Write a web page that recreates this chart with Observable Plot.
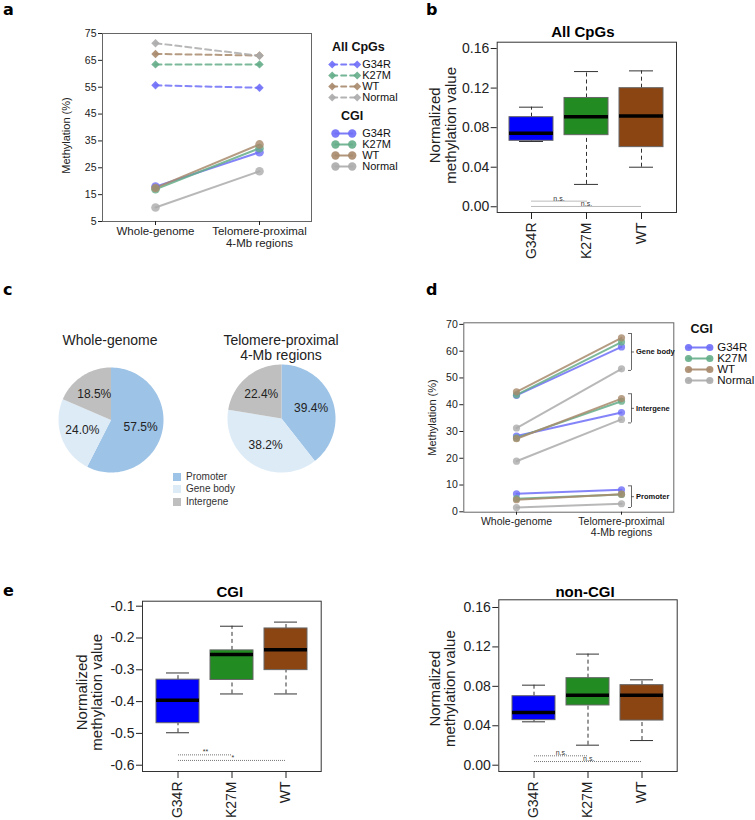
<!DOCTYPE html>
<html><head><meta charset="utf-8">
<script src="https://cdn.jsdelivr.net/npm/d3@7"></script>
<script src="https://cdn.jsdelivr.net/npm/@observablehq/plot@0.6"></script>
<style>
body{margin:0;background:#fff;}
#root{position:relative;width:755px;height:820px;overflow:hidden;font-family:"Liberation Sans",Arial,sans-serif;color:#222;background:#fff;}
.abs{position:absolute;}
.abs svg{display:block;}
.plab{position:absolute;font-weight:bold;font-size:16px;font-family:"DejaVu Sans",sans-serif;color:#000;}
.ctext{position:absolute;transform:translate(-50%,-50%);white-space:pre;text-align:center;line-height:1.05;}
</style></head><body><div id="root"></div>
<script>
// ---------- data ----------
const groups = ["G34R", "K27M", "WT"];
const boxColors = ["#0000ff", "#228b22", "#8b4513"];
const sites = ["Whole-genome", "Telomere-proximal\n4-Mb regions"];
const series = ["G34R", "K27M", "WT", "Normal"];
const seriesColors = ["#6e6ef8", "#64ad88", "#a8896c", "#ababab"];

// panel a (methylation %, All CpGs and CGI)
const aAllWG  = [55.7, 63.5, 67.4, 71.4];
const aAllTel = [54.8, 63.5, 66.8, 66.7];
const aCgiWG  = [18.0, 17.0, 17.5, 10.2];
const aCgiTel = [30.8, 32.3, 33.7, 23.7];

// panel b (All CpGs normalized methylation box stats)
const bLow  = [0.066, 0.0226, 0.040];
const bQ1   = [0.0667, 0.0724, 0.0603];
const bMed  = [0.0744, 0.0909, 0.0919];
const bQ3   = [0.0906, 0.110, 0.1199];
const bHigh = [0.1007, 0.1367, 0.1374];

// significance comparisons
const sigFrom = ["G34R", "G34R"];
const sigTo   = ["K27M", "WT"];
const bSigY = [0.0057, 0.0003];
const bSigLabel = ["n.s.", "n.s."];

// panel c (pie shares, %)
const pieRegions = ["Promoter", "Gene body", "Intergene"];
const pieColors = ["#9dc3e6", "#ddebf7", "#bfbfbf"];
const wgShares  = [57.5, 24.0, 18.5];
const telShares = [39.4, 38.2, 22.4];

// panel d (CGI methylation % by region)
const dRegions = ["Gene body", "Intergene", "Promoter"];
const dGeneBodyWG   = [43.5, 43.7, 44.8, 31.3];
const dGeneBodyTel  = [61.6, 63.4, 65.0, 53.4];
const dIntergeneWG  = [28.3, 27.6, 27.3, 18.9];
const dIntergeneTel = [37.1, 41.3, 42.3, 34.5];
const dPromoterWG   = [6.7, 4.9, 4.5, 1.6];
const dPromoterTel  = [8.2, 6.5, 6.6, 3.0];
const bracketLow  = [52.8, 33.2, 1.6];
const bracketHigh = [66.6, 44.1, 9.7];

// panel e (CGI / non-CGI box stats)
const eCgiLow  = [-0.498, -0.376, -0.376];
const eCgiQ1   = [-0.468, -0.332, -0.301];
const eCgiMed  = [-0.396, -0.252, -0.237];
const eCgiQ3   = [-0.331, -0.239, -0.170];
const eCgiHigh = [-0.310, -0.163, -0.150];
const eCgiSigY = [-0.5675, -0.585];
const eCgiSigLabel = ["**", "*"];

const eNonLow  = [0.044, 0.0203, 0.025];
const eNonQ1   = [0.0457, 0.0606, 0.0453];
const eNonMed  = [0.0534, 0.071, 0.071];
const eNonQ3   = [0.070, 0.0883, 0.0812];
const eNonHigh = [0.0812, 0.1127, 0.0866];
const eNonSigY = [0.0095, 0.0037];
const eNonSigLabel = ["n.s.", "n.s."];

// ---------- helpers ----------
const FONT = "'Liberation Sans', Arial, Helvetica, sans-serif";
const root = document.getElementById("root");
function place(el, left, top) {
  const d = document.createElement("div");
  d.className = "abs"; d.style.left = left + "px"; d.style.top = top + "px";
  d.appendChild(el); root.appendChild(d); return d;
}
function html(text, cls, left, top, css) {
  const d = document.createElement("div");
  d.className = cls; d.textContent = text;
  d.style.left = left + "px"; d.style.top = top + "px";
  if (css) d.style.cssText += css;
  root.appendChild(d); return d;
}
const baseStyle = (fs) => ({fontFamily: FONT, fontSize: fs + "px", color: "#222", background: "transparent", overflow: "visible"});

// ---------- panel letters ----------
html("a", "plab", 3, 0);
html("b", "plab", 426, 0);
html("c", "plab", 3, 280);
html("d", "plab", 426, 280);
html("e", "plab", 3, 581);

// ---------- panel a ----------
function rowsFor(wg, tel, extra) {
  const rows = [];
  series.forEach((s, i) => {
    rows.push({series: s, site: sites[0], value: wg[i], ...extra});
    rows.push({series: s, site: sites[1], value: tel[i], ...extra});
  });
  return rows;
}
const aAllRows = rowsFor(aAllWG, aAllTel, {set: "All CpGs"});
const aCgiRows = rowsFor(aCgiWG, aCgiTel, {set: "CGI"});

place(Plot.plot({
  width: 320, height: 250,
  marginLeft: 102, marginRight: 9, marginTop: 33, marginBottom: 29,
  style: baseStyle(11),
  x: {type: "point", domain: sites, padding: 0.5},
  y: {domain: [5, 75]},
  color: {domain: series, range: seriesColors},
  marks: [
    Plot.frame({stroke: "#666"}),
    Plot.axisY({ticks: d3.range(5, 76, 10), tickSize: 4, tickPadding: 2, fontSize: 10.5, label: null}),
    Plot.axisX({tickSize: 4, tickPadding: 1.5, fontSize: 11.5, lineHeight: 1.0, label: null}),
    Plot.text(["Methylation (%)"], {text: d => d, frameAnchor: "left", textAnchor: "middle", lineAnchor: "middle", dx: -36, dy: 8, rotate: -90, fontSize: 11}),
    Plot.line(aAllRows, {x: "site", y: "value", z: "series", stroke: "series", strokeWidth: 2, strokeDasharray: "6,4", strokeOpacity: 0.85}),
    Plot.dot(aAllRows, {x: "site", y: "value", fill: "series", symbol: "diamond2", r: 3.8, fillOpacity: 0.9}),
    Plot.line(aCgiRows, {x: "site", y: "value", z: "series", stroke: "series", strokeWidth: 2, strokeOpacity: 0.85}),
    Plot.dot(aCgiRows, {x: "site", y: "value", fill: "series", r: 4.3, fillOpacity: 0.8})
  ]
}), 0, 0);

// legend builder
function legend({width, height, xr, yr, symbol, r, dash, fs, dx}) {
  const rows = [];
  series.forEach(s => { rows.push({series: s, t: 0}); rows.push({series: s, t: 1}); });
  return Plot.plot({
    width, height, margin: 0, style: baseStyle(fs),
    x: {domain: [0, 1], range: xr, axis: null},
    y: {type: "point", domain: series, range: yr, padding: 0, axis: null},
    color: {domain: series, range: seriesColors},
    marks: [
      Plot.line(rows, {x: "t", y: "series", z: "series", stroke: "series", strokeWidth: 2, strokeDasharray: dash, strokeOpacity: 0.9}),
      Plot.dot(rows, {x: "t", y: "series", fill: "series", symbol, r, fillOpacity: 0.9}),
      Plot.text(series, {x: () => 1, y: d => d, text: d => d, dx, textAnchor: "start", fontSize: fs, fill: "#111"})
    ]
  });
}
html("All CpGs", "abs", 332, 40, "font-weight:bold;font-size:12.5px;color:#111;");
place(legend({width: 100, height: 52, xr: [11.7, 36.7], yr: [8, 43], symbol: "diamond2", r: 3.6, dash: "5,4", fs: 11, dx: 5}), 320, 55);
html("CGI", "abs", 341, 109, "font-weight:bold;font-size:12.5px;color:#111;");
place(legend({width: 100, height: 52, xr: [15, 31.7], yr: [7.5, 42.5], symbol: "circle", r: 4.2, dash: null, fs: 11, dx: 10}), 320, 124);

// ---------- box panels ----------
function boxPanel({title, low, q1, med, q3, high, sigY, sigLabel, yDomain, yTicks, fmt, width, height, ml, mr, mt, mb, titleDx, titleDy, labelDx, labelDy}) {
  const table = groups.map((g, i) => ({g, low: low[i], q1: q1[i], med: med[i], q3: q3[i], high: high[i]}));
  const sig = sigFrom.map((f, i) => ({from: f, to: sigTo[i], y: sigY[i], label: sigLabel[i]}));
  const pi = 0.2, po = 0.23;
  const step = (width - ml - mr) / (groups.length - pi + 2 * po);
  const sigText = sig.map(s => Plot.text([s], {
    x: "from", y: "y", text: "label",
    dx: (groups.indexOf(s.to) - groups.indexOf(s.from)) * step / 2,
    dy: -0.5, lineAnchor: "bottom", fontSize: 7, fill: "#333"
  }));
  return Plot.plot({
    width, height, marginLeft: ml, marginRight: mr, marginTop: mt, marginBottom: mb,
    style: baseStyle(14),
    x: {type: "band", domain: groups, paddingInner: pi, paddingOuter: po},
    y: {domain: yDomain},
    color: {domain: groups, range: boxColors},
    marks: [
      Plot.frame({stroke: "#333"}),
      Plot.axisY({ticks: yTicks, tickFormat: fmt, tickSize: 6, tickPadding: 2, fontSize: 14, label: null}),
      Plot.axisX({tickRotate: -90, tickSize: 7, tickPadding: 3, fontSize: 14, label: null}),
      Plot.ruleX(table, {x: "g", y1: "q3", y2: "high", stroke: "#333", strokeDasharray: "4,3"}),
      Plot.ruleX(table, {x: "g", y1: "low", y2: "q1", stroke: "#333", strokeDasharray: "4,3"}),
      Plot.tickY(table, {x: "g", y: "high", insetLeft: 10, insetRight: 10, stroke: "#333"}),
      Plot.tickY(table, {x: "g", y: "low", insetLeft: 10, insetRight: 10, stroke: "#333"}),
      Plot.barY(table, {x: "g", y1: "q1", y2: "q3", fill: "g", stroke: "#666", strokeWidth: 1}),
      Plot.tickY(table, {x: "g", y: "med", stroke: "#000", strokeWidth: 3.5}),
      Plot.link(sig, {x1: "from", x2: "to", y1: "y", y2: "y", stroke: "#666", strokeDasharray: "1,1", strokeWidth: 0.9}),
      ...sigText,
      Plot.text([title], {text: d => d, frameAnchor: "top", textAnchor: "middle", lineAnchor: "middle", dx: titleDx, dy: titleDy, fontWeight: "bold", fontSize: 15, fill: "#000"}),
      Plot.text(["Normalized\nmethylation value"], {text: d => d, frameAnchor: "left", textAnchor: "middle", lineAnchor: "middle", dx: labelDx, dy: labelDy, rotate: -90, fontSize: 15, lineHeight: 1.02})
    ]
  });
}
const f2 = d => d.toFixed(2);
const f1 = d => d.toFixed(1);

place(boxPanel({title: "All CpGs", low: bLow, q1: bQ1, med: bMed, q3: bQ3, high: bHigh,
  sigY: bSigY, sigLabel: bSigLabel, yDomain: [-0.0058, 0.1664], yTicks: [0, 0.04, 0.08, 0.12, 0.16], fmt: f2,
  width: 375, height: 260, ml: 116.7, mr: 79, mt: 41.7, mb: 48, titleDx: -4, titleDy: -9.7, labelDx: -54, labelDy: -2}), 380, 0);

place(boxPanel({title: "CGI", low: eCgiLow, q1: eCgiQ1, med: eCgiMed, q3: eCgiQ3, high: eCgiHigh,
  sigY: eCgiSigY, sigLabel: eCgiSigLabel, yDomain: [-0.6198, -0.0843], yTicks: [-0.6, -0.5, -0.4, -0.3, -0.2, -0.1], fmt: f1,
  width: 380, height: 260, ml: 142, mr: 59.3, mt: 40.7, mb: 49, titleDx: -2, titleDy: -9, labelDx: -52.8, labelDy: 6}), 0, 560);

place(boxPanel({title: "non-CGI", low: eNonLow, q1: eNonQ1, med: eNonMed, q3: eNonQ3, high: eNonHigh,
  sigY: eNonSigY, sigLabel: eNonSigLabel, yDomain: [-0.0064, 0.1678], yTicks: [0, 0.04, 0.08, 0.12, 0.16], fmt: f2,
  width: 375, height: 260, ml: 118.3, mr: 78.3, mt: 39.3, mb: 49, titleDx: -3, titleDy: -7.3, labelDx: -56.3, labelDy: 3}), 380, 560);

// ---------- panel c (pies) ----------
function pie(shares, radiusPx) {
  const arcs = d3.pie().sort(null)(shares);
  const pts = [];
  const labels = [];
  arcs.forEach((a, i) => {
    const n = Math.max(2, Math.ceil((a.endAngle - a.startAngle) / (Math.PI / 90)));
    pts.push({region: pieRegions[i], x: 0, y: 0});
    for (let k = 0; k <= n; k++) {
      const t = a.startAngle + (a.endAngle - a.startAngle) * k / n;
      pts.push({region: pieRegions[i], x: Math.sin(t), y: Math.cos(t)});
    }
    const m = (a.startAngle + a.endAngle) / 2;
    labels.push({x: 0.58 * Math.sin(m), y: 0.58 * Math.cos(m), text: shares[i].toFixed(1) + "%"});
  });
  const size = Math.round(radiusPx * 2 + 8);
  const D = size / 2 / radiusPx;
  return Plot.plot({
    width: size, height: size, margin: 0, style: baseStyle(12),
    x: {domain: [-D, D], axis: null},
    y: {domain: [-D, D], axis: null},
    color: {domain: pieRegions, range: pieColors},
    marks: [
      Plot.line(pts, {x: "x", y: "y", z: "region", fill: "region", stroke: null}),
      Plot.text(labels, {x: "x", y: "y", text: "text", fontSize: 12, fill: "#222"})
    ]
  });
}
place(pie(wgShares, 52.5), 110 - 56.5, 419.2 - 56.5);
place(pie(telShares, 54), 281 - 58, 417.5 - 58);
html("Whole-genome", "ctext", 110, 340, "font-size:14px;color:#222;");
html("Telomere-proximal\n4-Mb regions", "ctext", 281, 348, "font-size:14px;color:#222;");
pieRegions.forEach((r, i) => {
  html("", "abs", 173, 472.5 + i * 12.6, `width:8px;height:8px;background:${pieColors[i]};`);
  html(r, "abs", 186, 470.5 + i * 12.6, "font-size:10px;color:#333;line-height:12px;");
});

// ---------- panel d ----------
const dWGs = [dGeneBodyWG, dIntergeneWG, dPromoterWG];
const dTels = [dGeneBodyTel, dIntergeneTel, dPromoterTel];
const dRows = [];
dRegions.forEach((reg, j) => {
  series.forEach((s, i) => {
    dRows.push({region: reg, series: s, key: reg + s, site: sites[0], value: dWGs[j][i]});
    dRows.push({region: reg, series: s, key: reg + s, site: sites[1], value: dTels[j][i]});
  });
});
const brackets = dRegions.map((reg, j) => ({region: reg, site: sites[1], lo: bracketLow[j], hi: bracketHigh[j], mid: (bracketLow[j] + bracketHigh[j]) / 2}));

place(Plot.plot({
  width: 375, height: 300,
  marginLeft: 83.3, marginRight: 81.7, marginTop: 72.3, marginBottom: 38.3,
  style: baseStyle(10.5),
  x: {type: "point", domain: sites, padding: 0.5},
  y: {domain: [-0.15, 70.6]},
  color: {domain: series, range: seriesColors},
  marks: [
    Plot.frame({stroke: "#666"}),
    Plot.axisY({ticks: d3.range(0, 71, 10), tickSize: 4, tickPadding: 2, fontSize: 10.5, label: null}),
    Plot.axisX({tickSize: 3, tickPadding: 1.5, fontSize: 10.5, lineHeight: 1.1, label: null}),
    Plot.text(["Methylation (%)"], {text: d => d, frameAnchor: "left", textAnchor: "middle", lineAnchor: "middle", dx: -31.6, rotate: -90, fontSize: 11}),
    Plot.line(dRows, {x: "site", y: "value", z: "key", stroke: "series", strokeWidth: 2, strokeOpacity: 0.85}),
    Plot.dot(dRows, {x: "site", y: "value", fill: "series", r: 3.6, fillOpacity: 0.8}),
    Plot.ruleX(brackets, {x: "site", y1: "lo", y2: "hi", dx: 10, stroke: "#444", strokeWidth: 0.8}),
    Plot.ruleY(brackets, {x1: "site", x2: "site", y: "lo", insetLeft: 7, insetRight: -10, stroke: "#444", strokeWidth: 0.8}),
    Plot.ruleY(brackets, {x1: "site", x2: "site", y: "hi", insetLeft: 7, insetRight: -10, stroke: "#444", strokeWidth: 0.8}),
    Plot.ruleY(brackets, {x1: "site", x2: "site", y: "mid", insetLeft: 10, insetRight: -13, stroke: "#444", strokeWidth: 0.8}),
    Plot.text(brackets, {x: "site", y: "mid", text: "region", dx: 14.5, textAnchor: "start", fontWeight: "bold", fontSize: 7.5, fill: "#111"})
  ]
}), 380, 250);
html("CGI", "ctext", 701.7, 330, "font-weight:bold;font-size:12.5px;color:#111;");
place(legend({width: 75, height: 58, xr: [8, 29.3], yr: [11, 46.5], symbol: "circle", r: 3.6, dash: null, fs: 11.5, dx: 7.4}), 680, 335);
</script>
</body></html>
